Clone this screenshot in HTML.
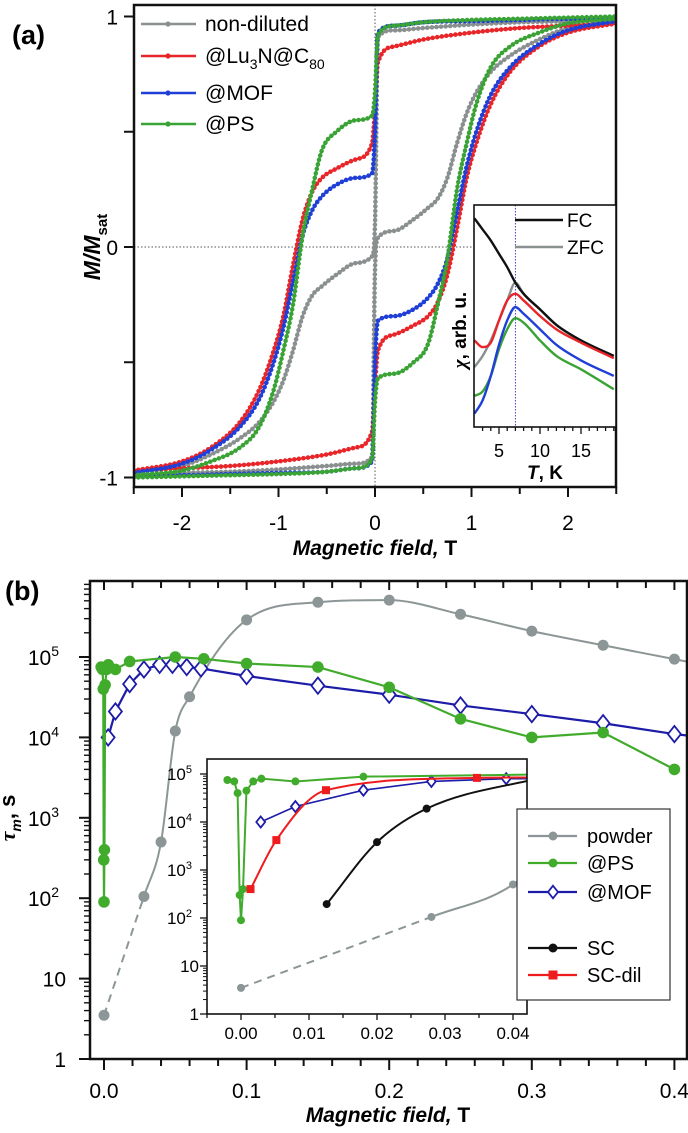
<!DOCTYPE html>
<html><head><meta charset="utf-8">
<style>
html,body{margin:0;padding:0;background:#fff;}
svg{display:block;font-family:"Liberation Sans",Arial,sans-serif;}
</style></head>
<body>
<svg id="fig" width="688" height="1133" viewBox="0 0 688 1133" xmlns="http://www.w3.org/2000/svg">
<defs>
<clipPath id="clipA"><rect x="134" y="5" width="482" height="482"/></clipPath>
<clipPath id="clipAI"><rect x="474" y="205" width="142" height="222"/></clipPath>
<clipPath id="clipB"><rect x="90" y="581" width="597" height="478"/></clipPath>
<clipPath id="clipBI"><rect x="207" y="759" width="320" height="255"/></clipPath>
</defs>
<text x="12" y="44" font-size="27" font-weight="bold">(a)</text>
<text x="5" y="600" font-size="27" font-weight="bold">(b)</text>
<g id="gA"></g>
<g id="gB"></g>
<text x="375" y="555" font-size="21" font-weight="bold" text-anchor="middle"><tspan font-style="italic">Magnetic field,</tspan> T</text>
<text transform="translate(100,247) rotate(-90)" font-size="23" font-weight="bold" text-anchor="middle"><tspan font-style="italic">M/M</tspan><tspan font-size="15" dy="7">sat</tspan></text>
<text x="388" y="1122" font-size="21" font-weight="bold" text-anchor="middle"><tspan font-style="italic">Magnetic field,</tspan> T</text>
<text transform="translate(15,818) rotate(-90)" font-size="22" font-weight="bold" text-anchor="middle"><tspan font-style="italic" font-family="Liberation Serif, serif">τ</tspan><tspan font-style="italic" font-size="14" dy="6">m</tspan><tspan dy="-6">, s</tspan></text>
</svg>
<script>
// ---------- Panel (a) data: ascending branch; descending branch is point-mirrored ----------
const hGrid=[-2.5,-2,-1.5,-1,-0.5,-0.2,-0.03,0,0.03,0.2,0.4,0.55,0.65,0.75,0.85,0.95,1.05,1.2,1.4,1.7,2.0,2.5];
const mGray=[-0.99,-0.98,-0.975,-0.965,-0.95,-0.94,-0.91,-0.1,0.04,0.07,0.12,0.17,0.21,0.3,0.45,0.58,0.67,0.76,0.83,0.9,0.95,0.98];
const mRed=[-0.97,-0.96,-0.95,-0.93,-0.9,-0.87,-0.8,-0.6,-0.45,-0.38,-0.34,-0.3,-0.24,-0.12,0.08,0.3,0.45,0.62,0.76,0.87,0.93,0.97];
const mBlue=[-0.99,-0.99,-0.985,-0.98,-0.975,-0.96,-0.93,-0.5,-0.32,-0.3,-0.27,-0.22,-0.16,-0.05,0.15,0.35,0.5,0.66,0.78,0.88,0.94,0.98];
const mGreen=[-1,-0.995,-0.99,-0.985,-0.975,-0.96,-0.92,-0.67,-0.57,-0.55,-0.5,-0.42,-0.25,-0.05,0.25,0.45,0.62,0.78,0.87,0.93,0.97,0.99];
const aXTicks=[-2,-1,0,1,2];
const aYTicks=[-1,0,1];
// inset (a)
const tInset=[2,3,4,5,6,7,8,10,12,15,19];
const chiFC=[0.94,0.89,0.84,0.78,0.72,0.65,0.6,0.53,0.46,0.39,0.32];
const chiZFC=[0.27,0.32,0.39,0.48,0.57,0.65,0.6,0.53,0.46,0.39,0.32];
const chiRed=[0.39,0.36,0.38,0.48,0.57,0.6,0.57,0.5,0.44,0.38,0.31];
const chiBlue=[0.06,0.12,0.23,0.37,0.48,0.54,0.51,0.44,0.37,0.3,0.23];
const chiGreen=[0.14,0.16,0.23,0.35,0.44,0.49,0.47,0.39,0.32,0.26,0.17];
const insetATicks=[5,10,15];
// ---------- Panel (b) data ----------
const powH=[0,0.028,0.04,0.05,0.06,0.1,0.15,0.2,0.25,0.3,0.35,0.4,0.42];
const powT=[3.5,105,500,12000,32000,2.9e5,4.8e5,5.1e5,3.4e5,2.1e5,1.4e5,9.4e4,8e4];
const psH=[-0.002,-0.001,-0.0005,-0.0002,0,0.0003,0.0008,0.0018,0.003,0.008,0.018,0.05,0.07,0.1,0.15,0.2,0.25,0.3,0.35,0.4];
const psT=[7.5e4,7e4,4e4,300,90,400,4.5e4,7e4,8e4,7e4,8.8e4,1e5,9.5e4,8.3e4,7.5e4,4.2e4,1.7e4,1e4,1.15e4,4e3];
const mofH=[0.0029,0.008,0.018,0.028,0.039,0.048,0.058,0.068,0.1,0.15,0.2,0.25,0.3,0.35,0.4,0.42];
const mofT=[1e4,2.1e4,4.6e4,7e4,8e4,8e4,7.5e4,7.2e4,5.8e4,4.4e4,3.4e4,2.5e4,1.95e4,1.5e4,1.1e4,1.0e4];
const scH=[0.0126,0.02,0.0273,0.045];
const scT=[195,3800,1.9e4,9e4];
const sdH=[0.0014,0.0052,0.0125,0.0347,0.045];
const sdT=[400,4200,4.6e4,8.3e4,8.5e4];
const bXTicks=[0,0.1,0.2,0.3,0.4];
const bXTickLabels=["0.0","0.1","0.2","0.3","0.4"];
const biXTicks=[0,0.01,0.02,0.03,0.04];
const biXTickLabels=["0.00","0.01","0.02","0.03","0.04"];
const decades=[0,1,2,3,4,5];

const NS='http://www.w3.org/2000/svg';
function mk(tag,attrs,parent){const e=document.createElementNS(NS,tag);for(const k in attrs)e.setAttribute(k,attrs[k]);parent.appendChild(e);return e;}
function nm(el,name){
  
  
  return el;
}
function mono(pts){
  const n=pts.length;if(n<2)return '';
  const d=[],m=[];
  for(let i=0;i<n-1;i++)d.push((pts[i+1][1]-pts[i][1])/(pts[i+1][0]-pts[i][0]));
  m[0]=d[0];m[n-1]=d[n-2];
  for(let i=1;i<n-1;i++){m[i]=(d[i-1]*d[i]<=0)?0:(d[i-1]+d[i])/2;}
  for(let i=0;i<n-1;i++){if(d[i]===0){m[i]=0;m[i+1]=0;continue;}const a=m[i]/d[i],b=m[i+1]/d[i],s=a*a+b*b;if(s>9){const t=3/Math.sqrt(s);m[i]=t*a*d[i];m[i+1]=t*b*d[i];}}
  let s='M'+pts[0][0].toFixed(2)+','+pts[0][1].toFixed(2);
  for(let i=0;i<n-1;i++){const h=pts[i+1][0]-pts[i][0];
    s+=' C'+(pts[i][0]+h/3).toFixed(2)+','+(pts[i][1]+m[i]*h/3).toFixed(2)+' '+(pts[i+1][0]-h/3).toFixed(2)+','+(pts[i+1][1]-m[i+1]*h/3).toFixed(2)+' '+pts[i+1][0].toFixed(2)+','+pts[i+1][1].toFixed(2);}
  return s;
}
function poly(pts){return 'M'+pts.map(p=>p[0].toFixed(2)+','+p[1].toFixed(2)).join(' L');}

// ================= Panel (a) =================
const gA=document.getElementById('gA');
const xa=h=>375+h*96.5, ya=m=>247-m*230.5;
const xi=t=>499+(t-5)*8.2, yi=c=>427-c*222;
nm(mk('line',{x1:xa(0),y1:5,x2:xa(0),y2:487,stroke:'#555','stroke-width':1,'stroke-dasharray':'1.5 2'},gA),'zero-field-line');
nm(mk('line',{x1:134,y1:ya(0),x2:616,y2:ya(0),stroke:'#555','stroke-width':1,'stroke-dasharray':'1.5 2'},gA),'zero-magnetization-line');
const curvesA=mk('g',{'clip-path':'url(#clipA)'},gA);
nm(curvesA,'hysteresis-curves');
const seriesA=[['non-diluted',mGray,'#8a9090'],['lu3n-c80',mRed,'#e8262a'],['mof',mBlue,'#1f3fd6'],['ps',mGreen,'#3aa335']];
seriesA.forEach(([name,vals,col])=>{
  const up=hGrid.map((h,i)=>[xa(h),ya(vals[i])]);
  const dn=hGrid.map((h,i)=>[xa(-h),ya(-vals[i])]).reverse();
  [[up,'ascending'],[dn,'descending']].forEach(([pts,br])=>{
    const d=mono(pts);
    nm(mk('path',{d:d,fill:'none',stroke:col,'stroke-width':2.2},curvesA),'curve-'+name+'-'+br);
    nm(mk('path',{d:d,fill:'none',stroke:col,'stroke-width':4.6,'stroke-linecap':'round','stroke-dasharray':'0 4.6'},curvesA),'markers-'+name+'-'+br);
  });
});
nm(mk('rect',{x:134,y:5,width:482,height:482,fill:'none',stroke:'#111','stroke-width':2.5},gA),'panel-a-frame');
for(let h=-2.5;h<=2.51;h+=0.5){const major=Math.abs(h-Math.round(h))<1e-6;
  nm(mk('line',{x1:xa(h),y1:487,x2:xa(h),y2:major?497:494,stroke:'#111','stroke-width':2},gA),'x-tick');}
for(let m=-1;m<=1.01;m+=0.5){
  nm(mk('line',{x1:134,y1:ya(m),x2:124,y2:ya(m),stroke:'#111','stroke-width':2},gA),'y-tick');}
aXTicks.forEach(h=>{const t=mk('text',{x:xa(h),y:530,'font-size':21,'text-anchor':'middle'},gA);t.textContent=(h<0?'-':'')+Math.abs(h);
  
  });
aYTicks.forEach(m=>{const t=mk('text',{x:118,y:ya(m)+8,'font-size':21,'text-anchor':'end'},gA);t.textContent=(m<0?'-':'')+Math.abs(m);
  
  });
const legA=[['non-diluted','#8a9090',24],['@Lu3N@C80','#e8262a',56],['@MOF','#1f3fd6',93],['@PS','#3aa335',124]];
legA.forEach(([lab,col,y])=>{
  const g=mk('g',{},gA);
  
  
  mk('line',{x1:141,y1:y,x2:196,y2:y,stroke:col,'stroke-width':2.6},g);
  mk('circle',{cx:168,cy:y,r:2.6,fill:col},g);
  const t=mk('text',{x:205,y:y+7,'font-size':21},g);
  if(lab==='@Lu3N@C80'){t.innerHTML='@Lu<tspan font-size="14" dy="6">3</tspan><tspan dy="-6">N@C</tspan><tspan font-size="14" dy="6">80</tspan>';}
  else t.textContent=lab;
});
nm(mk('rect',{x:474,y:205,width:142,height:222,fill:'#fff',stroke:'none'},gA),'inset-a-background');
const insA=mk('g',{'clip-path':'url(#clipAI)'},gA);
nm(insA,'inset-a-curves');
nm(mk('line',{x1:xi(7),y1:205,x2:xi(7),y2:427,stroke:'#3030c0','stroke-width':0.9,'stroke-dasharray':'1.5 1.5'},insA),'inset-tb-line');
[['zfc',chiZFC,'#8a9090'],['fc',chiFC,'#111'],['green',chiGreen,'#3aa335'],['blue',chiBlue,'#1f3fd6'],['red',chiRed,'#e8262a']].forEach(([n,v,c])=>{
  nm(mk('path',{d:mono(tInset.map((t,i)=>[xi(t),yi(v[i])])),fill:'none',stroke:c,'stroke-width':2.4},insA),'inset-curve-'+n);
});
nm(mk('rect',{x:474,y:205,width:142,height:222,fill:'none',stroke:'#111','stroke-width':1.6},gA),'inset-a-frame');
for(let t=3;t<=19;t++){const major=t%5===0;nm(mk('line',{x1:xi(t),y1:427,x2:xi(t),y2:major?434:431,stroke:'#111','stroke-width':1.3},gA),'inset-x-tick');}
insetATicks.forEach(t=>{const e=mk('text',{x:xi(t),y:457,'font-size':18,'text-anchor':'middle'},gA);e.textContent=t;
  
  });
{const e=mk('text',{x:545,y:479,'font-size':19,'font-weight':'bold','text-anchor':'middle'},gA);e.innerHTML='<tspan font-style="italic">T</tspan>, K';
  
  }
{const e=mk('text',{transform:'translate(466,330) rotate(-90)','font-size':19,'font-weight':'bold','text-anchor':'middle'},gA);e.innerHTML='<tspan font-style="italic" font-family="Liberation Serif, serif">χ</tspan>, arb. u.';
  
  }
[['FC','#111',220],['ZFC','#8a9090',247]].forEach(([l,c,y])=>{
  const g=mk('g',{},gA);
  
  
  mk('line',{x1:515,y1:y,x2:563,y2:y,stroke:c,'stroke-width':2.6},g);
  const t=mk('text',{x:567,y:y+7,'font-size':19},g);t.textContent=l;
});

// ================= Panel (b) =================
const gB=document.getElementById('gB');
const L=Math.log10;
const xb=h=>104+h*1426, yb=t=>1059-80.4*L(t);
const xib=h=>241+h*6800, yib=t=>1014-48*L(t);
function marker(par,kind,x,y,col,s){
  let e;
  if(kind==='dot')e=mk('circle',{cx:x,cy:y,r:s,fill:col},par);
  else if(kind==='sq')e=mk('rect',{x:x-s,y:y-s,width:2*s,height:2*s,fill:col},par);
  else e=mk('path',{d:`M${x},${y-s*1.25} L${x+s},${y} L${x},${y+s*1.25} L${x-s},${y} Z`,fill:'#fff',stroke:col,'stroke-width':1.8},par);
  return e;
}
function drawSeries(par,H,T,X,Y,col,kind,ms,lw,smooth,name,dashFirst){
  let pts=H.map((h,i)=>[X(h),Y(T[i])]);
  if(dashFirst){
    nm(mk('path',{d:poly(pts.slice(0,2)),fill:'none',stroke:col,'stroke-width':lw,'stroke-dasharray':'8 6'},par),name+'-dashed-line');
    nm(mk('path',{d:mono(pts.slice(1)),fill:'none',stroke:col,'stroke-width':lw},par),name+'-line');
  } else {
    nm(mk('path',{d:smooth?mono(pts):poly(pts),fill:'none',stroke:col,'stroke-width':lw},par),name+'-line');
  }
  pts.forEach(p=>{const e=marker(par,kind,p[0],p[1],col,ms);
    
    });
}
const mainB=mk('g',{'clip-path':'url(#clipB)'},gB);
nm(mainB,'panel-b-series');
drawSeries(mainB,powH,powT,xb,yb,'#8d9696','dot',5.5,2,true,'powder',true);
drawSeries(mainB,mofH,mofT,xb,yb,'#1c1ca8','dia',6.5,2.2,false,'mof',false);
drawSeries(mainB,psH,psT,xb,yb,'#41ab2c','dot',5.8,2.2,false,'ps',false);
nm(mk('rect',{x:90,y:581,width:597,height:478,fill:'none',stroke:'#111','stroke-width':2.5},gB),'panel-b-frame');
for(let i=0;i<=20;i++){const h=i*0.02;if(xb(h)>686)break;const major=i%5===0;
  nm(mk('line',{x1:xb(h),y1:1059,x2:xb(h),y2:major?1070:1066,stroke:'#111','stroke-width':2},gB),'x-tick');
  nm(mk('line',{x1:xb(h),y1:581,x2:xb(h),y2:major?590:588,stroke:'#111','stroke-width':2},gB),'top-tick');}
decades.forEach(dd=>{
  nm(mk('line',{x1:90,y1:yb(Math.pow(10,dd)),x2:79,y2:yb(Math.pow(10,dd)),stroke:'#111','stroke-width':2},gB),'y-tick');
  for(let k=2;k<=9;k++){const y=yb(k*Math.pow(10,dd));if(y<582)break;nm(mk('line',{x1:90,y1:y,x2:84,y2:y,stroke:'#111','stroke-width':1.4},gB),'y-minor-tick');}
  const t=mk('text',{x:dd<=1?66:59,y:yb(Math.pow(10,dd))+8,'font-size':21,'text-anchor':'end'},gB);
  t.innerHTML=dd===0?'1':dd===1?'10':'10<tspan font-size="14" dy="-9">'+dd+'</tspan>';
  
  
});
bXTicks.forEach((h,i)=>{const t=mk('text',{x:xb(h),y:1098,'font-size':21,'text-anchor':'middle'},gB);t.textContent=bXTickLabels[i];
  
  });
nm(mk('rect',{x:207,y:759,width:320,height:255,fill:'#fff'},gB),'inset-b-background');
const insB=mk('g',{'clip-path':'url(#clipBI)'},gB);
nm(insB,'inset-b-series');
drawSeries(insB,powH,powT,xib,yib,'#8d9696','dot',4,2,true,'inset-powder',true);
drawSeries(insB,mofH,mofT,xib,yib,'#1c1ca8','dia',4.4,1.6,false,'inset-mof',false);
drawSeries(insB,psH,psT,xib,yib,'#41ab2c','dot',4,2,false,'inset-ps',false);
drawSeries(insB,scH,scT,xib,yib,'#111','dot',4,2,true,'inset-sc',false);
drawSeries(insB,sdH,sdT,xib,yib,'#ee1c1c','sq',4,2,true,'inset-sc-dil',false);
nm(mk('rect',{x:207,y:759,width:320,height:255,fill:'none',stroke:'#111','stroke-width':1.6},gB),'inset-b-frame');
for(let i=-1;i<=8;i++){const h=i*0.005;const major=i%2===0;
  nm(mk('line',{x1:xib(h),y1:1014,x2:xib(h),y2:major?1020:1018,stroke:'#111','stroke-width':1.3},gB),'inset-x-tick');}
decades.forEach(dd=>{
  nm(mk('line',{x1:207,y1:yib(Math.pow(10,dd)),x2:200,y2:yib(Math.pow(10,dd)),stroke:'#111','stroke-width':1.3},gB),'inset-y-tick');
  for(let k=2;k<=9;k++){const y=yib(k*Math.pow(10,dd));if(y<760)break;nm(mk('line',{x1:207,y1:y,x2:203,y2:y,stroke:'#111','stroke-width':1},gB),'inset-y-minor-tick');}
  const t=mk('text',{x:dd<=1?199:192,y:yib(Math.pow(10,dd))+6,'font-size':17,'text-anchor':'end'},gB);
  t.innerHTML=dd===0?'1':dd===1?'10':'10<tspan font-size="11" dy="-7">'+dd+'</tspan>';
  
  
});
biXTicks.forEach((h,i)=>{const t=mk('text',{x:xib(h),y:1039,'font-size':17,'text-anchor':'middle'},gB);t.textContent=biXTickLabels[i];
  
  });
nm(mk('rect',{x:517,y:809,width:153,height:191,fill:'#fff',stroke:'#333','stroke-width':1.2},gB),'legend-box');
[['powder','#8d9696','dot',836],['@PS','#41ab2c','dot',863],['@MOF','#1c1ca8','dia',892],['SC','#111','dot',948],['SC-dil','#ee1c1c','sq',975]].forEach(([l,c,k,y])=>{
  const g=mk('g',{},gB);
  
  
  mk('line',{x1:528,y1:y,x2:577,y2:y,stroke:c,'stroke-width':2.2},g);
  marker(g,k,553,y,c,k==='dia'?5:4.5);
  const t=mk('text',{x:587,y:y+7,'font-size':20},g);t.textContent=l;
});
</script>
</body></html>
